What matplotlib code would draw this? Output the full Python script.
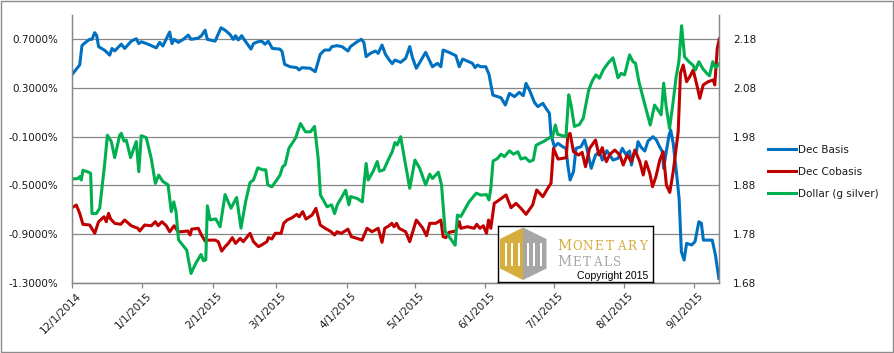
import numpy as np
import pandas as pd
import matplotlib
matplotlib.use("Agg")
import matplotlib.pyplot as plt
from matplotlib.patches import Polygon, Rectangle
from matplotlib.transforms import ScaledTranslation

# ----------------------------------------------------------------------------
# Data: x = days since 2014-12-01
# ----------------------------------------------------------------------------
START = "2014-12-01"

BASIS_DAYS = [0, 3.4, 4.4, 6.3, 7.8, 8.8, 10, 10.9, 11.7, 14.4, 16.6, 17.6, 18.8, 21.7, 23.2,
              26.1, 28.3, 29.4, 30.5, 33.5, 37.1, 38.6, 40, 43, 44, 45, 46.8, 49, 51.2, 52.4,
              55.6, 57, 58.6, 59.6, 63, 64.2, 65.6, 67.4, 69.6, 71, 72, 73.2, 74.7, 76.5, 78.8,
              79.9, 81.8, 83.5, 85, 86.4, 88.2, 91.5, 92.5, 93.6, 96, 99, 100, 101.2, 104.9,
              107.1, 109.3, 111.2, 113.4, 114.4, 116.7, 118.9, 121.5, 122.6, 125.5, 127.4,
              128.5, 129.5, 131.4, 133.6, 134.8, 136.5, 138, 139.7, 141, 142.2, 144.7, 146.9,
              148.7, 149.9, 151.6, 155.7, 158.7, 160.9, 162.4, 163.4, 166, 169, 170.5, 172,
              176.3, 177.5, 178.5, 179.9, 182.2, 183.6, 185.3, 188.9, 190.8, 192.6, 194.8,
              196.9, 198.7, 199.9, 201.4, 203.6, 205.1, 207.3, 208.7, 210.2, 210.9, 212.4, 214,
              216, 217.5, 218.3, 219.3, 220.8, 221.9, 224.1, 225.7, 226.7, 228.6, 230.5, 232.3,
              233.5, 235.5, 238.2, 240.4, 242.3, 243.8, 245.5, 246.3, 247.3, 248.5, 249.2,
              250.7, 252.2, 253.6, 255.8, 257.3, 258.7, 259.9, 260.5, 261.4, 262.9, 263.6,
              264.7, 266.1, 267.3, 268.3, 269.5, 270.6, 272.8, 274.3, 276, 277.1, 278, 281.9,
              283.3, 284.8]
BASIS = [0.41, 0.49, 0.65, 0.68, 0.70, 0.70, 0.755, 0.73, 0.64, 0.61, 0.57, 0.625, 0.605, 0.66,
         0.625, 0.685, 0.705, 0.665, 0.68, 0.66, 0.63, 0.675, 0.645, 0.76, 0.665, 0.70, 0.675,
         0.70, 0.735, 0.70, 0.71, 0.73, 0.775, 0.70, 0.685, 0.735, 0.795, 0.775, 0.74, 0.70,
         0.73, 0.695, 0.73, 0.68, 0.62, 0.665, 0.68, 0.685, 0.66, 0.685, 0.625, 0.62, 0.60,
         0.495, 0.475, 0.467, 0.448, 0.467, 0.462, 0.434, 0.577, 0.612, 0.612, 0.64, 0.648,
         0.64, 0.604, 0.64, 0.68, 0.70, 0.675, 0.558, 0.585, 0.604, 0.585, 0.653, 0.577, 0.53,
         0.50, 0.53, 0.511, 0.544, 0.64, 0.55, 0.462, 0.593, 0.475, 0.503, 0.475, 0.612, 0.593,
         0.566, 0.475, 0.538, 0.503, 0.467, 0.489, 0.475, 0.475, 0.412, 0.242, 0.22, 0.16,
         0.256, 0.229, 0.264, 0.237, 0.338, 0.284, 0.182, 0.147, 0.174, 0.133, 0.092, -0.086,
         -0.182, -0.155, -0.182, -0.196, -0.333, -0.456, -0.388, -0.196, -0.182, -0.127,
         -0.196, -0.36, -0.251, -0.223, -0.292, -0.215, -0.292, -0.278, -0.196, -0.245,
         -0.218, -0.333, -0.245, -0.229, -0.141, -0.19, -0.218, -0.136, -0.10, -0.127, -0.182,
         -0.223, -0.36, -0.251, -0.086, -0.045, -0.155, -0.388, -0.607, -1.045, -1.114, -0.977,
         -0.99, -0.963, -0.799, -0.812, -0.95, -0.95, -1.073, -1.264]

COBASIS_DAYS = [0, 1.9, 3.4, 4.8, 7.8, 10, 11.7, 14.1, 15.1, 16.1, 17, 18.8, 21.4, 23.2, 26.1, 29,
                29.8, 32, 34.9, 36.7, 37.9, 39.6, 41.5, 43, 45, 46.7, 48.3, 51, 52, 52.7, 55.6,
                57, 58.6, 60, 63, 64.4, 65.9, 67.4, 68.8, 70.6, 72, 74, 75.4, 78.4, 79.9, 82.1,
                83.9, 85.8, 86.5, 88, 89.5, 92.1, 93.2, 94.7, 96.9, 99, 100, 101.6, 103, 105.7,
                107.4, 109.3, 111.5, 114.1, 115.6, 116.7, 118.6, 121.5, 123, 125.5, 127.7,
                129.9, 132.1, 134.8, 136.5, 137.7, 139.6, 140.8, 141.8, 142.9, 144, 146.9,
                148.7, 151.6, 154.3, 156.1, 157.5, 160.2, 162.4, 163.4, 164.6, 166, 169, 170.5,
                171.2, 174.1, 177.1, 178.2, 179.6, 181.1, 182.5, 183.4, 184.4, 185.9, 188.1,
                191.1, 193.3, 195.5, 197.7, 199.9, 202.8, 204.6, 207.3, 209.9, 210.9, 212, 214,
                216.1, 217.6, 218.3, 219.3, 220.8, 223.1, 224.6, 226.1, 227.9, 230.5, 232,
                233.5, 234.5, 235.3, 236.8, 239, 241.2, 242.7, 244.4, 246.3, 247.8, 250, 251.5,
                252.7, 254.4, 255.6, 257.1, 258.8, 260.3, 261.7, 263.2, 264.7, 266.9, 267.9,
                269.1, 270.6, 272, 273.5, 275.3, 276.4, 277.9, 280.1, 282.3, 283, 284.1, 285]
COBASIS = [-0.684, -0.662, -0.73, -0.82, -0.826, -0.894, -0.799, -0.758, -0.799, -0.73, -0.777,
           -0.812, -0.82, -0.785, -0.832, -0.853, -0.875, -0.826, -0.832, -0.799, -0.832,
           -0.799, -0.832, -0.881, -0.832, -0.881, -0.881, -0.875, -0.908, -0.86, -0.853,
           -0.908, -0.958, -0.95, -0.95, -0.963, -1.04, -1.004, -0.977, -0.93, -0.977, -0.936,
           -0.963, -0.894, -0.963, -1.004, -0.985, -0.963, -0.93, -0.941, -0.894, -0.894,
           -0.812, -0.785, -0.766, -0.738, -0.758, -0.716, -0.777, -0.744, -0.689, -0.826,
           -0.853, -0.881, -0.908, -0.881, -0.894, -0.86, -0.922, -0.936, -0.95, -0.853, -0.881,
           -0.853, -0.968, -0.853, -0.832, -0.812, -0.84, -0.812, -0.853, -0.881, -0.963,
           -0.785, -0.848, -0.914, -0.812, -0.812, -0.785, -0.922, -0.93, -0.886, -0.875,
           -0.799, -0.853, -0.84, -0.853, -0.82, -0.853, -0.832, -0.894, -0.785, -0.853,
           -0.648, -0.62, -0.579, -0.684, -0.648, -0.689, -0.738, -0.662, -0.538, -0.593,
           -0.511, -0.484, -0.196, -0.284, -0.278, -0.273, -0.086, -0.073, -0.223, -0.251,
           -0.229, -0.347, -0.196, -0.127, -0.251, -0.19, -0.264, -0.305, -0.245, -0.21, -0.251,
           -0.333, -0.251, -0.305, -0.21, -0.305, -0.415, -0.305, -0.402, -0.511, -0.429,
           -0.292, -0.223, -0.497, -0.558, -0.388, -0.059, 0.421, 0.489, 0.352, 0.393, 0.448,
           0.311, 0.215, 0.325, 0.352, 0.366, 0.325, 0.626, 0.703]

DOLLAR_DAYS = [0, 2.6, 3.4, 4.1, 4.8, 7.3, 8.2, 8.8, 10.7, 12.2, 14.4, 15.6, 17.3, 18.8, 21, 21.7,
               22.9, 23.9, 25.8, 28.3, 29.4, 30.5, 32.7, 34.9, 36.7, 38.2, 40, 42.3, 43.7, 44.8,
               45.8, 46.9, 50.5, 52.4, 54.5, 56.8, 57.9, 58.9, 59.6, 60.8, 63.3, 65.2, 67.4,
               70, 72.5, 74.4, 76.5, 78.4, 79.9, 81.8, 83.9, 85.3, 86.2, 88, 89.7, 91.6, 92.7,
               93.8, 95.5, 98.4, 100.6, 102.8, 105, 106.8, 108.4, 109.4, 112.3, 114.3, 115.6,
               116.8, 120.5, 121.9, 122.7, 125.6, 127.8, 129.5, 130.4, 132.5, 134.4, 135.4,
               137.3, 139.5, 141, 142.2, 143.2, 144.7, 146.6, 148.7, 151, 153.1, 155.7, 157.5,
               158.7, 161.3, 162.7, 164.3, 166, 168.7, 169.7, 171.2, 174.8, 178, 180, 182.5,
               183.6, 184.4, 185.4, 187.3, 188.9, 190.4, 192.6, 194.4, 196.3, 197.7, 199.6,
               201.4, 203.1, 204.3, 205.8, 208, 210.2, 211.6, 212.8, 213.8, 216, 217.5, 218.7,
               219.7, 221.2, 223.4, 225.1, 227.5, 229.2, 230.7, 232.2, 233.9, 236, 238.2, 240.4,
               241.8, 243.3, 245.5, 247, 248.1, 249.6, 252.1, 254.6, 256.5, 258, 259.4, 260.5,
               261.6, 263.1, 264.5, 266, 267.2, 268.4, 269.7, 271.6, 273.4, 274.5, 276, 277.7,
               279.5, 280.7, 282.1, 283.3, 284.8]
DOLLAR = [1.893, 1.894, 1.898, 1.891, 1.911, 1.907, 1.905, 1.822, 1.822, 1.833, 1.925, 1.983,
          1.97, 1.937, 1.983, 1.987, 1.971, 1.973, 1.937, 1.97, 1.908, 1.982, 1.978, 1.935, 1.884,
          1.901, 1.888, 1.881, 1.826, 1.846, 1.826, 1.768, 1.747, 1.699, 1.72, 1.738, 1.725,
          1.727, 1.838, 1.809, 1.811, 1.795, 1.861, 1.833, 1.855, 1.792, 1.848, 1.886, 1.891,
          1.916, 1.912, 1.912, 1.881, 1.877, 1.888, 1.901, 1.918, 1.922, 1.956, 1.977, 2.007,
          1.99, 1.99, 2.001, 1.935, 1.86, 1.836, 1.84, 1.822, 1.84, 1.87, 1.84, 1.857, 1.853,
          1.846, 1.925, 1.891, 1.908, 1.929, 1.909, 1.912, 1.935, 1.949, 1.968, 1.963, 1.98,
          1.929, 1.874, 1.932, 1.915, 1.881, 1.903, 1.894, 1.907, 1.881, 1.785, 1.775, 1.757,
          1.819, 1.816, 1.846, 1.864, 1.86, 1.861, 1.85, 1.874, 1.93, 1.935, 1.944, 1.939,
          1.951, 1.944, 1.949, 1.934, 1.937, 1.929, 1.932, 1.962, 1.966, 1.971, 1.978, 1.98,
          2.004, 1.985, 1.982, 1.98, 2.066, 2.046, 2.001, 2.005, 2.018, 2.076, 2.096, 2.107,
          2.1, 2.117, 2.131, 2.142, 2.101, 2.11, 2.107, 2.148, 2.134, 2.131, 2.093, 2.048,
          2.004, 2.045, 2.035, 2.025, 2.09, 2.042, 1.997, 2.045, 2.103, 2.134, 2.208, 2.144,
          2.134, 2.127, 2.117, 2.134, 2.12, 2.11, 2.105, 2.134, 2.122, 2.129]

SERIES_LABELS = ["Dec Basis", "Dec Cobasis", "Dollar (g silver)"]
TICK_DATES = ["2014-12-01", "2015-01-01", "2015-02-01", "2015-03-01", "2015-04-01",
              "2015-05-01", "2015-06-01", "2015-07-01", "2015-08-01", "2015-09-01"]
TICK_LABELS = ["12/1/2014", "1/1/2015", "2/1/2015", "3/1/2015", "4/1/2015",
               "5/1/2015", "6/1/2015", "7/1/2015", "8/1/2015", "9/1/2015"]
LEFT_TICKS = [-1.3, -0.9, -0.5, -0.1, 0.3, 0.7]
RIGHT_TICKS = [1.68, 1.78, 1.88, 1.98, 2.08, 2.18]
END_DATE = "2015-09-12"

BLUE, RED, GREEN = "#0070C0", "#C00000", "#00B050"
GRID = "#878787"
TXT = "#1a1a1a"
FS = 7.5


def to_dates(days):
    return pd.Timestamp(START) + pd.to_timedelta(np.asarray(days), unit="D")


def draw_logo(fig):
    # Monetary Metals watermark box, drawn in pixel coordinates
    lax = fig.add_axes([498 / 894, (353 - 281.7) / 353, 155.3 / 894, 56 / 353], zorder=5)
    lax.set_xlim(498, 653.3)
    lax.set_ylim(281.7, 225.7)
    lax.set_xticks([])
    lax.set_yticks([])
    for s in lax.spines.values():
        s.set_edgecolor("black")
        s.set_linewidth(1.0)
    gold, grey = "#D6AE3E", "#A6A6A6"
    lax.add_patch(Polygon([(523, 227.5), (500, 239), (500, 268.5), (523, 280)], color=gold, lw=0))
    lax.add_patch(Polygon([(523, 227.5), (546.5, 239), (546.5, 268.5), (523, 280)], color=grey, lw=0))
    for x0 in [504.5, 511, 517.5, 526.5, 533, 539.5]:
        lax.add_patch(Rectangle((x0, 243), 2.4, 23, color="white", lw=0))
    # small-caps wordmark: larger first letter, then evenly spaced capitals
    for word, x_first, x_rest, pitch, col, y in [("MONETARY", 564.5, 577.0, 11.0, gold, 250.3),
                                                  ("METALS", 564.5, 576.8, 10.1, grey, 265.6)]:
        lax.text(x_first, y, word[0], ha="center", va="baseline", color=col,
                 family="DejaVu Serif", fontsize=10)
        for i, ch in enumerate(word[1:]):
            lax.text(x_rest + i * pitch, y, ch, ha="center", va="baseline", color=col,
                     family="DejaVu Serif", fontsize=8.6)
    lax.text(648.5, 278.6, "Copyright 2015", ha="right", va="baseline",
             family="Liberation Sans", fontsize=7.6, color="black")


def main():
    plt.rcParams["font.family"] = ["DejaVu Sans"]
    fig = plt.figure(figsize=(8.94, 3.53), dpi=100)
    ax = fig.add_axes([72 / 894, 70.3 / 353, 647.3 / 894, 267.7 / 353])
    ax2 = ax.twinx()

    lw = 2.2
    l1, = ax.plot(to_dates(BASIS_DAYS), BASIS, color=BLUE, lw=lw, solid_joinstyle="round",
                  label=SERIES_LABELS[0])
    l2, = ax.plot(to_dates(COBASIS_DAYS), COBASIS, color=RED, lw=lw, solid_joinstyle="round",
                  label=SERIES_LABELS[1])
    l3, = ax2.plot(to_dates(DOLLAR_DAYS), DOLLAR, color=GREEN, lw=lw, solid_joinstyle="round",
                   label=SERIES_LABELS[2])

    ax.set_xlim(pd.Timestamp(START), pd.Timestamp(END_DATE))
    ax.set_ylim(-1.3, 0.9)
    ax2.set_ylim(1.68, 2.23)
    ax.set_yticks(LEFT_TICKS)
    ax.set_yticklabels([f"{v:.4f}%" for v in LEFT_TICKS])
    ax2.set_yticks(RIGHT_TICKS)
    ax2.set_yticklabels([f"{v:.2f}" for v in RIGHT_TICKS])
    ax.set_xticks(pd.to_datetime(TICK_DATES))
    ax.set_xticklabels(TICK_LABELS, rotation=45, ha="right", va="top", rotation_mode="anchor")

    ax.grid(axis="y", color=GRID, lw=0.9)
    ax.set_axisbelow(True)
    for a in (ax, ax2):
        a.spines["top"].set_visible(False)
        for side in ("left", "right", "bottom"):
            a.spines[side].set_color(GRID)
            a.spines[side].set_linewidth(0.9)
    ax.tick_params(axis="y", length=0, pad=10, labelsize=FS, labelcolor=TXT)
    ax2.tick_params(axis="y", length=0, pad=10, labelsize=FS, labelcolor=TXT)
    ax.tick_params(axis="x", length=3.3, width=0.9, color=GRID, pad=2.5, labelsize=FS,
                   labelcolor=TXT)
    offset = ScaledTranslation(4 / 100, 0, fig.dpi_scale_trans)
    for lbl in ax.get_xticklabels():
        lbl.set_transform(lbl.get_transform() + offset)

    fig.legend(handles=[l1, l2, l3], loc="upper left", bbox_to_anchor=(768 / 894, 1 - 145 / 353),
               frameon=False, fontsize=FS, handlelength=2.65, handletextpad=0.2,
               labelspacing=1.15, borderpad=0, borderaxespad=0, labelcolor=TXT)

    draw_logo(fig)

    fig.add_artist(Rectangle((0.6 / 894, 0.6 / 353), 1 - 1.6 / 894, 1 - 1.6 / 353,
                             transform=fig.transFigure, fill=False, edgecolor="#8c8c8c", lw=1))
    fig.savefig("out.png", dpi=100)


if __name__ == "__main__":
    main()
